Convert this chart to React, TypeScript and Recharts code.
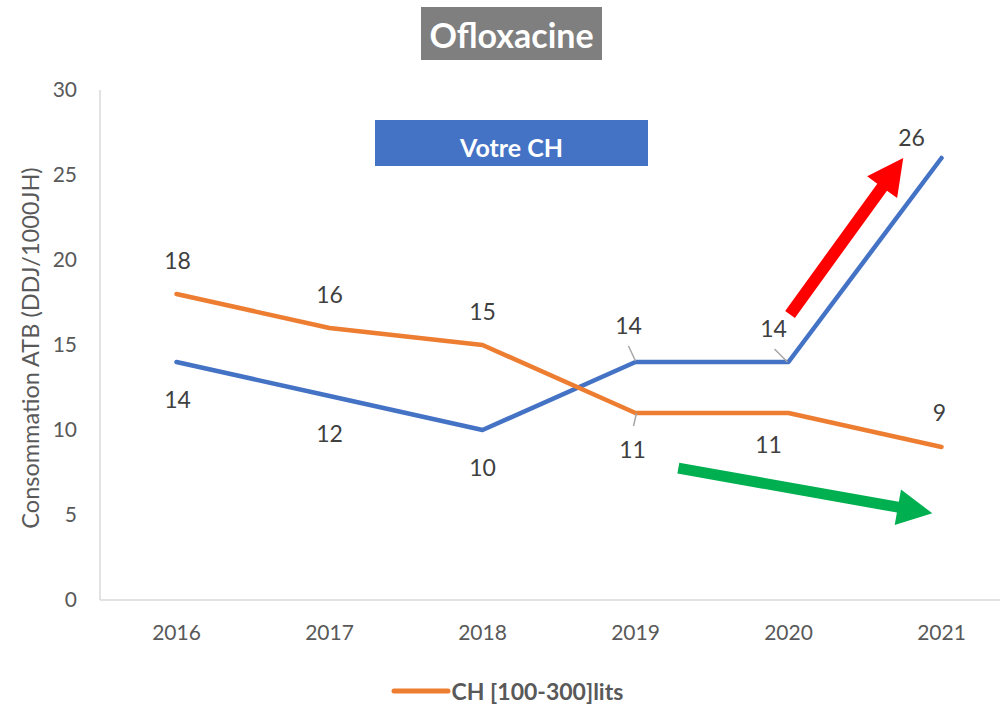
import React from 'react';
import { LineChart, Line, XAxis, YAxis, Legend, LabelList } from 'recharts';

const years = ['2016', '2017', '2018', '2019', '2020', '2021'];
const votreCh = [14, 12, 10, 14, 14, 26];
const ch100300 = [18, 16, 15, 11, 11, 9];
const yTicks = [0, 5, 10, 15, 20, 25, 30];

const data = years.map((year, i) => ({ year, votre: votreCh[i], ch: ch100300[i] }));

const FONT = 'Lato, "Open Sans", sans-serif';
const BLUE = '#4472C4';
const ORANGE = '#ED7D31';
const TEXT = '#595959';

// chart geometry (shared with the overlay)
const W = 1020;
const H = 705;
const PLOT_L = 100;
const PLOT_T = 90;
const PLOT_B = 600;
const STEP = 153;
const PAD = STEP / 2;
const Y_MAX = 30;

const px = (i: number) => PLOT_L + PAD + i * STEP;
const py = (v: number) => PLOT_B - (v / Y_MAX) * (PLOT_B - PLOT_T);

// label nudges [dx, dy] from the point, and leader lines [x1, y1, x2, y2]
const blueNudge = [[1, 37], [0, 37], [0, 37], [-7, -37], [-15, -34], [-30, -21]];
const orangeNudge = [[1, -34], [0, -34], [0, -34], [-3, 36], [-20, 31], [-2, -35]];
const blueLeader: Record<number, number[]> = { 3: [-7, -16, 0, -1], 4: [-14, -13, -1, 0] };
const orangeLeader: Record<number, number[]> = { 3: [1, 0, -2, 13] };

const makeLabel = (nudge: number[][], leaders: Record<number, number[]>) => (props: any) => {
  const { x, y, value, index } = props;
  const [dx, dy] = nudge[index] || [0, -30];
  const l = leaders[index];
  return (
    <g>
      {l && (
        <line x1={x + l[0]} y1={y + l[1]} x2={x + l[2]} y2={y + l[3]} stroke="#a6a6a6" strokeWidth={1.5} />
      )}
      <text
        x={x + dx}
        y={y + dy}
        textAnchor="middle"
        dominantBaseline="central"
        fill="#404040"
        fontSize={23}
        fontFamily={FONT}
      >
        {value}
      </text>
    </g>
  );
};

function arrow(x1: number, y1: number, x2: number, y2: number, shaft: number, headW: number, headL: number) {
  const len = Math.hypot(x2 - x1, y2 - y1);
  const ux = (x2 - x1) / len;
  const uy = (y2 - y1) / len;
  const nx = -uy;
  const ny = ux;
  const bx = x2 - ux * headL;
  const by = y2 - uy * headL;
  const pts = [
    [x1 + nx * shaft / 2, y1 + ny * shaft / 2],
    [bx + nx * shaft / 2, by + ny * shaft / 2],
    [bx + nx * headW / 2, by + ny * headW / 2],
    [x2, y2],
    [bx - nx * headW / 2, by - ny * headW / 2],
    [bx - nx * shaft / 2, by - ny * shaft / 2],
    [x1 - nx * shaft / 2, y1 - ny * shaft / 2],
  ];
  return pts.map((p) => p.join(',')).join(' ');
}

const LegendContent = (props: any) => {
  const items = (props.payload || []).filter((p: any) => p.type !== 'none');
  return (
    <div style={{ display: 'flex', justifyContent: 'center', alignItems: 'center', height: 28, paddingRight: 4 }}>
      {items.map((p: any) => (
        <div key={p.value} style={{ display: 'flex', alignItems: 'center' }}>
          <svg width={60} height={10}>
            <line x1={3} y1={5} x2={57} y2={5} stroke={p.color} strokeWidth={5} strokeLinecap="round" />
          </svg>
          <span style={{ fontFamily: FONT, fontWeight: 700, fontSize: 23, color: TEXT, marginLeft: 1 }}>{p.value}</span>
        </div>
      ))}
    </div>
  );
};

export default function App() {
  return (
    <div style={{ position: 'absolute', left: 0, top: 0, width: 1000, height: 705, overflow: 'hidden', background: '#fff' }}>
      <LineChart width={W} height={H} data={data} margin={{ top: PLOT_T, right: 2, left: 0, bottom: 0 }}>
        <XAxis
          dataKey="year"
          padding={{ left: PAD, right: PAD }}
          axisLine={{ stroke: '#d9d9d9', strokeWidth: 1.5 }}
          tickLine={false}
          tickSize={0}
          tickMargin={25}
          height={77}
          tick={{ fill: TEXT, fontSize: 21, fontFamily: FONT }}
        />
        <YAxis
          domain={[0, Y_MAX]}
          ticks={yTicks}
          width={PLOT_L}
          axisLine={{ stroke: '#d9d9d9', strokeWidth: 1.5 }}
          tickLine={false}
          tickSize={0}
          tickMargin={23}
          tick={{ fill: TEXT, fontSize: 21, fontFamily: FONT }}
        />
        <Legend verticalAlign="bottom" height={28} content={<LegendContent />} />
        <Line
          dataKey="votre"
          name="Votre CH"
          legendType="none"
          stroke={BLUE}
          strokeWidth={4.5}
          strokeLinecap="round"
          strokeLinejoin="round"
          dot={false}
          activeDot={false}
          isAnimationActive={false}
        >
          <LabelList dataKey="votre" content={makeLabel(blueNudge, blueLeader)} />
        </Line>
        <Line
          dataKey="ch"
          name="CH [100-300]lits"
          stroke={ORANGE}
          strokeWidth={4.5}
          strokeLinecap="round"
          strokeLinejoin="round"
          dot={false}
          activeDot={false}
          isAnimationActive={false}
        >
          <LabelList dataKey="ch" content={makeLabel(orangeNudge, orangeLeader)} />
        </Line>
      </LineChart>
      <svg width={1000} height={705} style={{ position: 'absolute', left: 0, top: 0, pointerEvents: 'none' }}>
        <rect x={421} y={7} width={181} height={53} fill="#7f7f7f" />
        <text x={511.5} y={34} textAnchor="middle" dominantBaseline="central" fill="#fff" fontSize={34} fontWeight={700} fontFamily={FONT}>
          Ofloxacine
        </text>
        <rect x={375} y={120} width={273} height={46} fill={BLUE} />
        <text x={511.5} y={147} textAnchor="middle" dominantBaseline="central" fill="#fff" fontSize={25} fontWeight={700} fontFamily={FONT}>
          Votre CH
        </text>
        <text
          transform={`translate(30, ${(PLOT_T + PLOT_B) / 2 + 3}) rotate(-90)`}
          textAnchor="middle"
          dominantBaseline="central"
          fill={TEXT}
          fontSize={23.5}
          fontFamily={FONT}
        >
          Consommation ATB (DDJ/1000JH)
        </text>
        <polygon points={arrow(px(4.01), py(16.8), px(4.75), py(26), 12, 37, 36)} fill="#FF0000" />
        <polygon points={arrow(px(3.28), py(7.76), px(4.94), py(5.1), 11, 36, 35)} fill="#00B050" />
      </svg>
    </div>
  );
}
